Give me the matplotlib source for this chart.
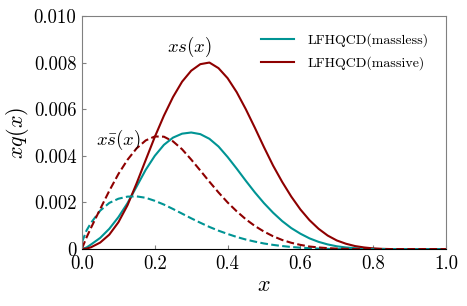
import numpy as np
import matplotlib
matplotlib.use("Agg")
import matplotlib.pyplot as plt

plt.rcParams['font.family'] = 'serif'
plt.rcParams['font.serif'] = ['cmr10']
plt.rcParams['mathtext.fontset'] = 'cm'
plt.rcParams['axes.unicode_minus'] = False

# x grid
x = np.array([0.0, 0.0125, 0.025, 0.05, 0.075, 0.1, 0.125, 0.15, 0.175, 0.2, 0.225,
              0.25, 0.275, 0.3, 0.325, 0.35, 0.375, 0.4, 0.425, 0.45, 0.475,
              0.5, 0.525, 0.55, 0.575, 0.6, 0.625, 0.65, 0.675, 0.7, 0.725,
              0.75, 0.775, 0.8, 0.825, 0.85, 0.9, 0.95, 1.0])

# xs(x), massive
xs_massive = np.array([0.0, 0.00002, 0.00008, 0.00028, 0.00062, 0.00115, 0.00188, 0.00282, 0.00382, 0.00481, 0.00572,
                       0.00652, 0.00718, 0.00765, 0.00793, 0.0080, 0.00776, 0.00733, 0.00673, 0.0060, 0.0052,
                       0.00437, 0.00358, 0.00288, 0.00225, 0.0017, 0.00124, 0.00087, 0.00058, 0.00037, 0.00023,
                       0.00013, 0.00007, 0.00003, 0.00001, 0.0, 0.0, 0.0, 0.0])

# xs(x), massless
xs_massless = np.array([0.0, 0.00007, 0.0002, 0.00048, 0.00087, 0.00137, 0.00197, 0.00268, 0.0034, 0.0040, 0.00447,
                        0.00478, 0.00495, 0.0050, 0.00493, 0.00473, 0.0044, 0.00395, 0.00345, 0.00293, 0.00243,
                        0.00197, 0.00156, 0.0012, 0.0009, 0.00066, 0.00046, 0.00031, 0.0002, 0.00012, 0.00007,
                        0.00004, 0.00002, 0.00001, 0.0, 0.0, 0.0, 0.0, 0.0])

# x sbar(x), massive
xsbar_massive = np.array([0.00003, 0.0005, 0.00092, 0.00172, 0.0025, 0.00322, 0.00383, 0.00432, 0.00466, 0.00483, 0.00482,
                          0.00462, 0.00428, 0.00384, 0.00337, 0.00289, 0.00243, 0.0020, 0.00162, 0.00128, 0.00099,
                          0.00075, 0.00055, 0.00039, 0.00027, 0.00018, 0.00011, 0.00007, 0.00004, 0.00002, 0.00001,
                          0.0, 0.0, 0.0, 0.0, 0.0, 0.0, 0.0, 0.0])

# x sbar(x), massless
xsbar_massless = np.array([0.0003, 0.0008, 0.00113, 0.00165, 0.00198, 0.00216, 0.00225, 0.00226, 0.0022, 0.00207, 0.00191,
                           0.00172, 0.00152, 0.00132, 0.00113, 0.00095, 0.00079, 0.00065, 0.00052, 0.00041, 0.00032,
                           0.00024, 0.00018, 0.00013, 0.00009, 0.00006, 0.00004, 0.00002, 0.00001, 0.0, 0.0,
                           0.0, 0.0, 0.0, 0.0, 0.0, 0.0, 0.0, 0.0])

yticks = [0, 0.002, 0.004, 0.006, 0.008, 0.010]
ytick_labels = ['0', '0.002', '0.004', '0.006', '0.008', '0.010']
xticks = [0.0, 0.2, 0.4, 0.6, 0.8, 1.0]
xtick_labels = ['0.0', '0.2', '0.4', '0.6', '0.8', '1.0']

teal = '#009494'
red = '#8e0000'

fig = plt.figure(figsize=(4.67, 3.06), dpi=100)
ax = fig.add_axes([0.1756, 0.186, 0.7794, 0.762])

ax.plot(x, xs_massless, color=teal, lw=1.5, label='LFHQCD(massless)')
ax.plot(x, xs_massive, color=red, lw=1.5, label='LFHQCD(massive)')
ax.plot(x, xsbar_massless, color=teal, lw=1.5, ls='--')
ax.plot(x, xsbar_massive, color=red, lw=1.5, ls='--')

ax.text(0.295, 0.00868, r'$xs(x)$', fontsize=13.5, ha='center', va='center')
ax.text(0.099, 0.00468, r'$x\bar{s}(x)$', fontsize=13.5, ha='center', va='center')

ax.set_xlim(0, 1)
ax.set_ylim(0, 0.010)
ax.set_xticks(xticks)
ax.set_xticklabels(xtick_labels)
ax.set_yticks(yticks)
ax.set_yticklabels(ytick_labels)
ax.tick_params(direction='in', length=3, width=0.8, color='#808080', labelsize=13.5, pad=4)

for side in ['left', 'top', 'right']:
    ax.spines[side].set_color('#808080')
ax.spines['bottom'].set_color('black')

ax.set_xlabel(r'$x$', fontsize=16, labelpad=2)
ax.set_ylabel(r'$xq(x)$', fontsize=16, labelpad=2)

ax.legend(loc='upper right', bbox_to_anchor=(0.986, 0.979), frameon=False, fontsize=10,
          handlelength=2.4, handletextpad=0.94, labelspacing=0.65)

fig.savefig('out.png', dpi=100)
